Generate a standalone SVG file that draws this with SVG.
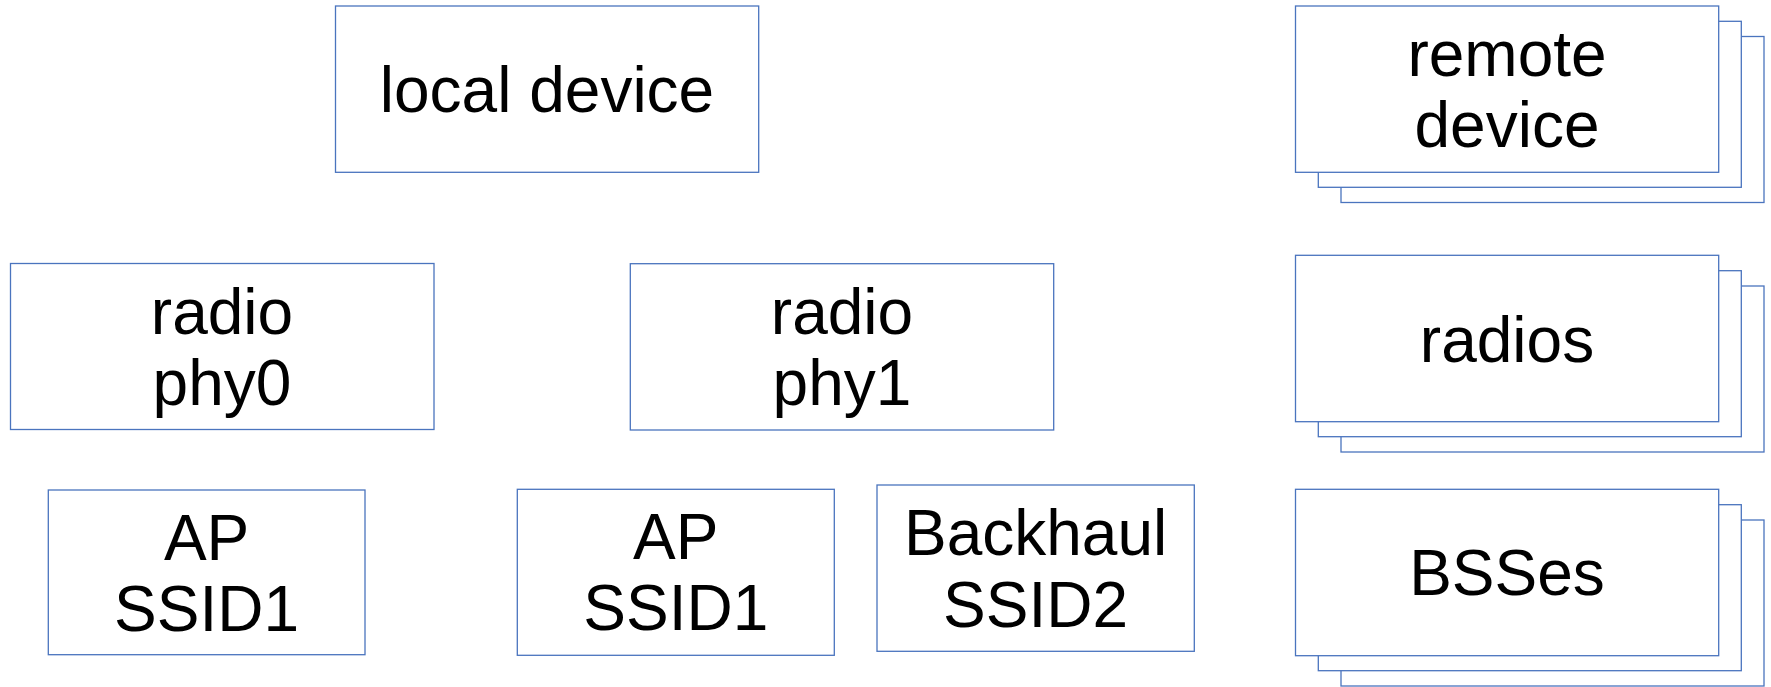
<svg xmlns="http://www.w3.org/2000/svg" width="1771" height="687" viewBox="0 0 1771 687">
<style>
.box{fill:#ffffff;stroke:#4a74be;stroke-width:1.3}
.t{font-family:"Liberation Sans",Arial,sans-serif;font-size:64px;fill:#000000;text-anchor:middle}
</style>
<rect x="0" y="0" width="1771" height="687" fill="#ffffff"/>
<g id="local-device">
<rect class="box" x="335.5" y="6" width="423.2" height="166.3"/>
<text class="t" x="547" y="112">local device</text>
</g>
<g id="remote-device">
<rect class="box" x="1341" y="36.5" width="423" height="166"/>
<rect class="box" x="1318.3" y="21.3" width="423" height="166"/>
<rect class="box" x="1295.5" y="6" width="423.2" height="166.3"/>
<text class="t" x="1507" y="75.5">remote</text>
<text class="t" x="1507" y="147">device</text>
</g>
<g id="radio-phy0">
<rect class="box" x="10.5" y="263.5" width="423.5" height="166"/>
<text class="t" x="222" y="333.5">radio</text>
<text class="t" x="222" y="404.5">phy0</text>
</g>
<g id="radio-phy1">
<rect class="box" x="630.3" y="263.7" width="423.4" height="166.3"/>
<text class="t" x="842" y="333.8">radio</text>
<text class="t" x="842" y="404.8">phy1</text>
</g>
<g id="radios">
<rect class="box" x="1341" y="286" width="423" height="166"/>
<rect class="box" x="1318.3" y="270.7" width="423" height="166"/>
<rect class="box" x="1295.5" y="255.3" width="423.2" height="166.4"/>
<text class="t" x="1507" y="361.5">radios</text>
</g>
<g id="ap-ssid1-phy0">
<rect class="box" x="48.3" y="490" width="316.7" height="164.7"/>
<text class="t" x="206.6" y="559.5">AP</text>
<text class="t" x="206.6" y="630.5">SSID1</text>
</g>
<g id="ap-ssid1-phy1">
<rect class="box" x="517.3" y="489.3" width="317" height="166"/>
<text class="t" x="675.8" y="559.3">AP</text>
<text class="t" x="675.8" y="630.3">SSID1</text>
</g>
<g id="backhaul-ssid2">
<rect class="box" x="877" y="485" width="317.3" height="166.3"/>
<text class="t" x="1035.6" y="555">Backhaul</text>
<text class="t" x="1035.6" y="626.5">SSID2</text>
</g>
<g id="bsses">
<rect class="box" x="1341" y="520" width="423" height="166"/>
<rect class="box" x="1318.3" y="504.7" width="423" height="166"/>
<rect class="box" x="1295.5" y="489.3" width="423.2" height="166.4"/>
<text class="t" x="1507" y="595.3">BSSes</text>
</g>
<g id="connectors"/>
</svg>
